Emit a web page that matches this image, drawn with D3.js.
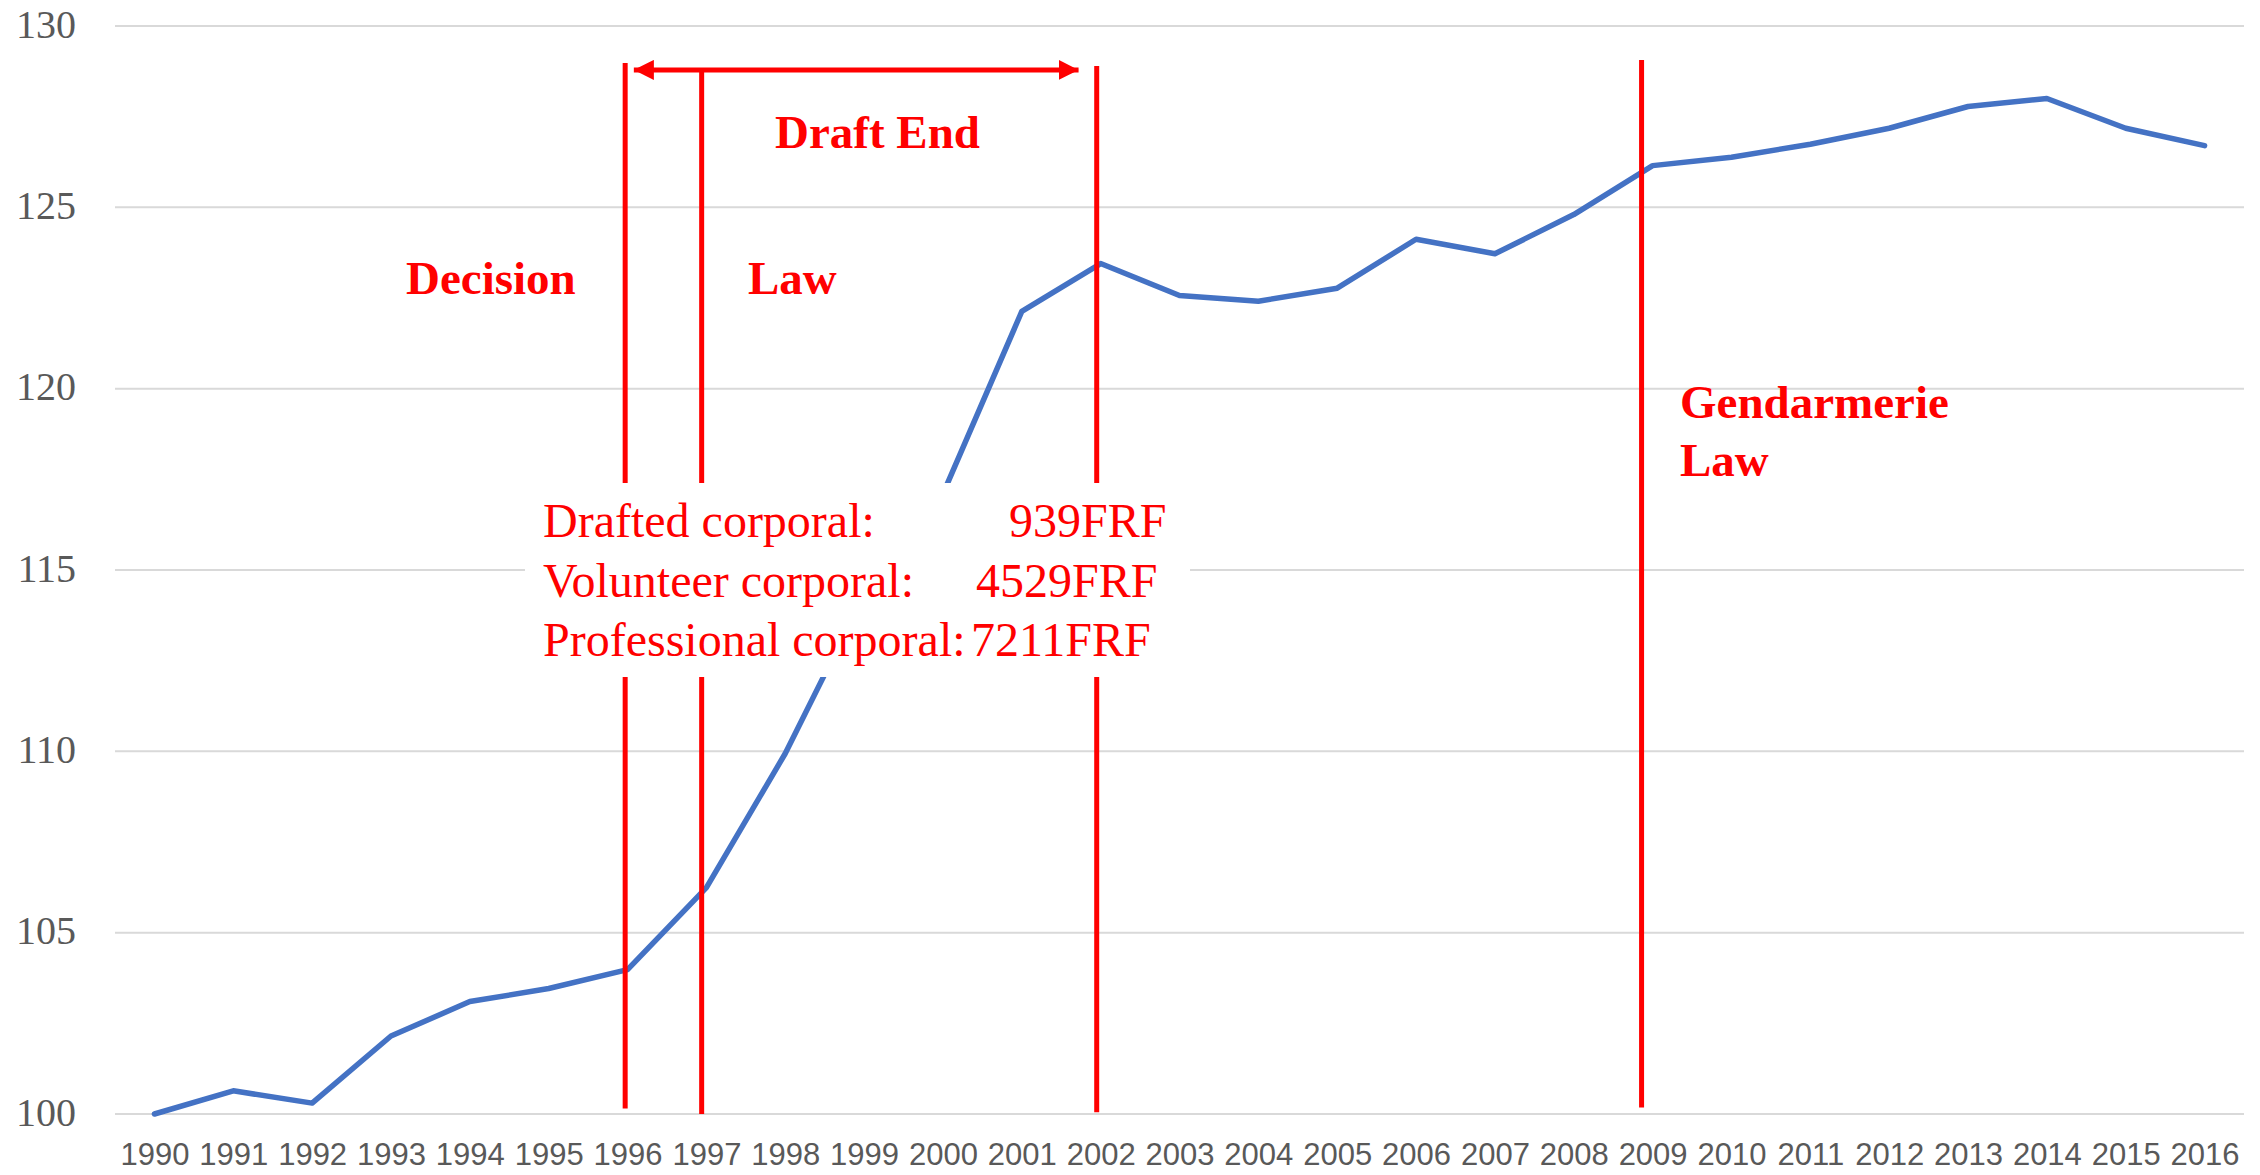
<!DOCTYPE html>
<html>
<head>
  <meta charset="UTF-8" />
  <title>Corporal pay index 1990-2016</title>
  <script src="https://d3js.org/d3.v7.min.js"></script>
  <style>
    body { margin: 0; background: #fff; }
    .x-axis text { font-family: "Liberation Sans Narrow", "Liberation Sans", Arial, sans-serif; font-size: 31px; fill: #595959; }
    .y-axis text { font-family: "Liberation Serif", "Times New Roman", serif; font-size: 40px; fill: #595959; }
    .note { font-family: "Liberation Serif", "Times New Roman", serif; fill: #ff0000; }
  </style>
</head>
<body>
  <div id="chart"></div>
  <script>
    // data
    const years = [1990, 1991, 1992, 1993, 1994, 1995, 1996, 1997, 1998, 1999,
      2000, 2001, 2002, 2003, 2004, 2005, 2006, 2007, 2008, 2009,
      2010, 2011, 2012, 2013, 2014, 2015, 2016];
    const values = [100.0, 100.64, 100.3, 102.15, 103.1, 103.46, 103.98, 106.24, 109.94, 114.3,
      117.1, 122.13, 123.45, 122.57, 122.41, 122.77, 124.12, 123.72, 124.8, 126.15,
      126.38, 126.74, 127.18, 127.78, 128.0, 127.18, 126.7];
    const yTicks = [100, 105, 110, 115, 120, 125, 130];

    // event markers (year position, top value)
    const eventYears = [1995.97, 1996.94, 2001.95, 2008.86];
    const eventTops = [128.98, 128.79, 128.9, 129.06];
    const eventBottoms = [100.15, 100, 100.05, 100.18];

    const payLabels = ["Drafted corporal:", "Volunteer corporal:", "Professional corporal:"];
    const payValues = ["939FRF", "4529FRF", "7211FRF"];

    const W = 2260, H = 1175;
    const plotLeft = 115, plotRight = 2244, plotTop = 26, plotBottom = 1114;

    const svg = d3.select("#chart")
      .append("svg")
      .attr("width", W)
      .attr("height", H);

    const x = d3.scaleLinear()
      .domain([1989.5, 2016.5])
      .range([plotLeft, plotRight]);
    const y = d3.scaleLinear()
      .domain([100, 130])
      .range([plotBottom, plotTop]);

    // gridlines
    svg.append("g")
      .selectAll("line")
      .data(yTicks)
      .enter()
      .append("line")
      .attr("x1", plotLeft)
      .attr("x2", plotRight)
      .attr("y1", d => y(d))
      .attr("y2", d => y(d))
      .attr("stroke", "#d9d9d9")
      .attr("stroke-width", 2);

    // axes
    const yAxis = d3.axisLeft(y).tickValues(yTicks).tickSize(0).tickPadding(39);
    svg.append("g")
      .attr("class", "y-axis")
      .attr("transform", "translate(" + plotLeft + ",0)")
      .call(yAxis)
      .call(g => g.select(".domain").remove());
    svg.selectAll(".y-axis text").attr("dy", "0.28em");

    const xAxis = d3.axisBottom(x).tickValues(years).tickFormat(d3.format("d")).tickSize(0).tickPadding(29);
    svg.append("g")
      .attr("class", "x-axis")
      .attr("transform", "translate(0," + plotBottom + ")")
      .call(xAxis)
      .call(g => g.select(".domain").remove());

    // the series
    const line = d3.line()
      .x((d, i) => x(years[i]))
      .y(d => y(d));
    svg.append("path")
      .datum(values)
      .attr("fill", "none")
      .attr("stroke", "#4472c4")
      .attr("stroke-width", 5.5)
      .attr("stroke-linejoin", "round")
      .attr("stroke-linecap", "round")
      .attr("d", line);

    // red event lines
    svg.append("g")
      .selectAll("line")
      .data(eventYears)
      .enter()
      .append("line")
      .attr("x1", d => x(d))
      .attr("x2", d => x(d))
      .attr("y1", (d, i) => y(eventTops[i]))
      .attr("y2", (d, i) => y(eventBottoms[i]))
      .attr("stroke", "#ff0000")
      .attr("stroke-width", 5);

    // double arrow for the draft end period
    const defs = svg.append("defs");
    ["start", "end"].forEach(k => {
      defs.append("marker")
        .attr("id", "arrow-" + k)
        .attr("viewBox", "0 0 10 10")
        .attr("refX", k == "end" ? 10 : 0)
        .attr("refY", 5)
        .attr("markerWidth", 4)
        .attr("markerHeight", 4)
        .attr("markerUnits", "strokeWidth")
        .attr("orient", "auto")
        .append("path")
        .attr("d", k == "end" ? "M0,0L10,5L0,10Z" : "M10,0L0,5L10,10Z")
        .attr("fill", "#ff0000");
    });
    svg.append("line")
      .attr("x1", x(1996.08))
      .attr("x2", x(2001.72))
      .attr("y1", y(128.79))
      .attr("y2", y(128.79))
      .attr("stroke", "#ff0000")
      .attr("stroke-width", 5)
      .attr("marker-start", "url(#arrow-start)")
      .attr("marker-end", "url(#arrow-end)");

    // white text box over the chart
    svg.append("rect")
      .attr("x", 525)
      .attr("y", 483)
      .attr("width", 665)
      .attr("height", 194)
      .attr("fill", "#ffffff");

    const pay = svg.append("g").attr("class", "note").style("font-size", "48px");
    pay.selectAll("text.lbl")
      .data(payLabels)
      .enter()
      .append("text")
      .attr("class", "lbl")
      .attr("x", 543)
      .attr("y", (d, i) => 537 + i * 59.5)
      .text(d => d);
    const valX = [1009, 976, 971];
    pay.selectAll("text.val")
      .data(payValues)
      .enter()
      .append("text")
      .attr("class", "val")
      .attr("x", (d, i) => valX[i])
      .attr("y", (d, i) => 537 + i * 59.5)
      .text(d => d);

    // bold event labels
    const notes = [
      { t: "Decision", x: 406, y: 294 },
      { t: "Law", x: 748, y: 294 },
      { t: "Draft End", x: 775, y: 148 },
      { t: "Gendarmerie", x: 1680, y: 418 },
      { t: "Law", x: 1680, y: 476 }
    ];
    svg.append("g")
      .attr("class", "note")
      .selectAll("text")
      .data(notes)
      .enter()
      .append("text")
      .attr("x", d => d.x)
      .attr("y", d => d.y)
      .style("font-size", "47px")
      .style("font-weight", "bold")
      .text(d => d.t);
  </script>
</body>
</html>
